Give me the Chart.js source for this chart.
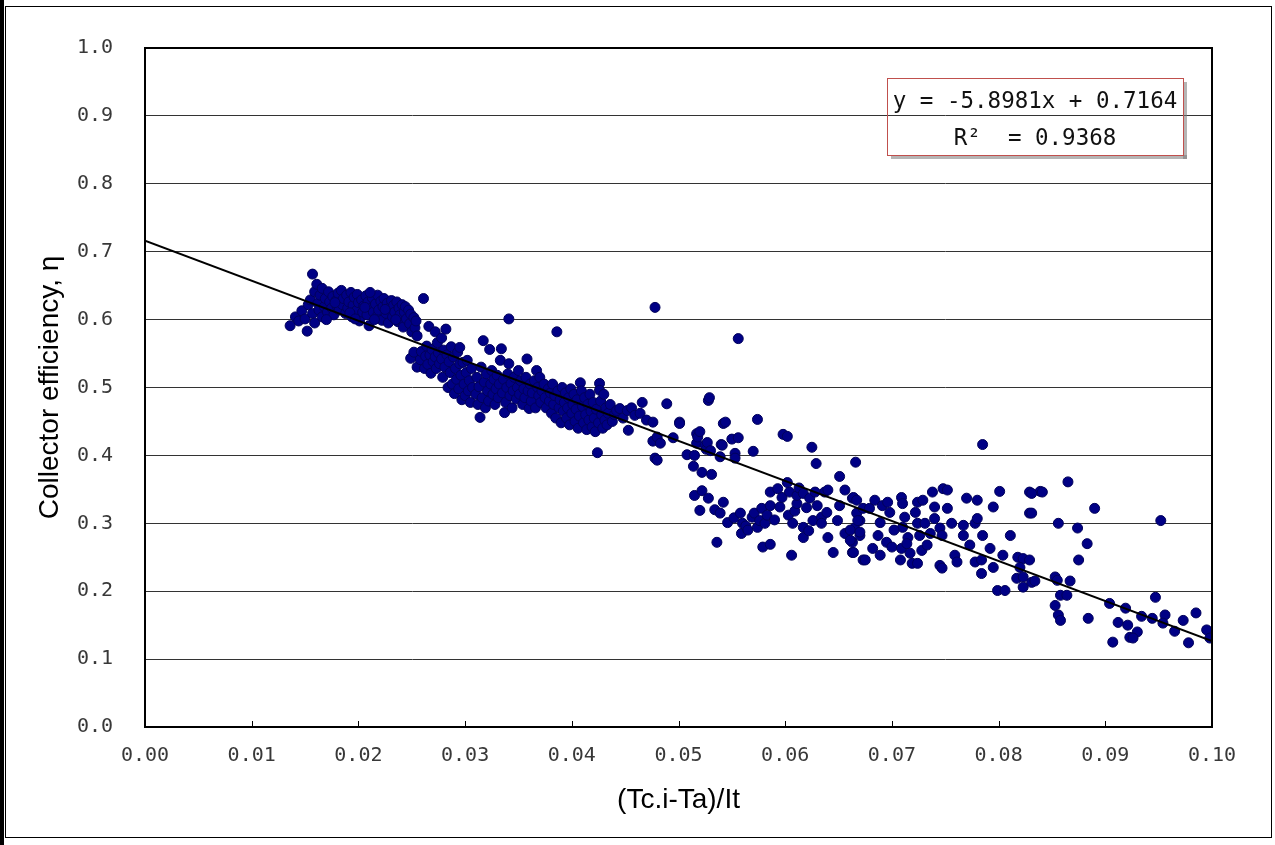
<!DOCTYPE html>
<html>
<head>
<meta charset="utf-8">
<script src="https://cdn.jsdelivr.net/npm/chart.js@4.4.0/dist/chart.umd.min.js"></script>
<style>
  html, body { margin: 0; padding: 0; background: #fff; }
  #wrap { width: 1275px; height: 845px; }
</style>
</head>
<body>
<div id="wrap"><canvas id="effChart" width="1275" height="845"></canvas></div>
<script>
/* ===== DATA ===== */

// measured points, grouped by (Tc.i-Ta)/It range: [x, efficiency]
const ptsA = [
  [0.0136,0.591],[0.0141,0.604],[0.0144,0.598],[0.0147,0.613],[0.0150,0.601],[0.0152,0.583],[0.0153,0.622],[0.0155,0.629],[0.0157,0.667],[0.0157,0.609],
  [0.0159,0.641],[0.0159,0.595],[0.0161,0.652],[0.0162,0.624],[0.0163,0.614],[0.0164,0.636],[0.0166,0.604],[0.0166,0.646],[0.0168,0.619],[0.0169,0.631],
  [0.0171,0.611],[0.0172,0.641],[0.0173,0.626],[0.0175,0.617],[0.0176,0.634],[0.0177,0.607],[0.0179,0.628],[0.0180,0.620],[0.0181,0.639],[0.0182,0.614],
  [0.0184,0.643],[0.0185,0.622],[0.0186,0.631],[0.0188,0.609],[0.0189,0.636],[0.0190,0.617],[0.0191,0.626],[0.0193,0.640],[0.0194,0.604],[0.0195,0.621],
  [0.0196,0.633],[0.0198,0.613],[0.0199,0.637],[0.0200,0.625],[0.0201,0.598],[0.0203,0.629],[0.0204,0.611],[0.0205,0.620],[0.0207,0.635],[0.0208,0.607],
  [0.0209,0.626],[0.0210,0.591],[0.0212,0.617],[0.0213,0.632],[0.0214,0.611],[0.0216,0.623],[0.0217,0.604],[0.0218,0.636],[0.0219,0.614],[0.0221,0.627],
  [0.0222,0.599],[0.0223,0.619],[0.0224,0.631],[0.0226,0.609],[0.0227,0.624],[0.0228,0.595],[0.0229,0.617],[0.0231,0.628],[0.0232,0.604],[0.0233,0.621],
  [0.0234,0.611],[0.0236,0.626],[0.0237,0.597],[0.0238,0.617],[0.0239,0.607],[0.0241,0.622],[0.0242,0.589],[0.0243,0.611],[0.0244,0.619],[0.0245,0.601],
  [0.0247,0.614],[0.0248,0.594],[0.0249,0.608],[0.0250,0.582],[0.0252,0.603],[0.0253,0.588],[0.0254,0.598],[0.0255,0.576],
  [0.0178,0.625],[0.0192,0.610],[0.0206,0.618],[0.0215,0.600],[0.0225,0.615],[0.0170,0.600],[0.0197,0.601],[0.0211,0.640],[0.0235,0.600]
];

const ptsB = [
  [0.0249,0.543],[0.0252,0.552],[0.0255,0.530],[0.0258,0.541],[0.0259,0.553],[0.0261,0.631],[0.0262,0.528],[0.0263,0.546],[0.0264,0.561],[0.0265,0.534],
  [0.0266,0.590],[0.0267,0.548],[0.0268,0.521],[0.0269,0.556],[0.0270,0.538],[0.0272,0.582],[0.0272,0.545],[0.0273,0.528],[0.0274,0.566],[0.0275,0.551],
  [0.0276,0.535],[0.0278,0.573],[0.0278,0.542],[0.0279,0.515],[0.0280,0.555],[0.0281,0.530],[0.0282,0.586],[0.0283,0.548],[0.0284,0.500],[0.0285,0.538],
  [0.0286,0.522],[0.0287,0.560],[0.0288,0.505],[0.0289,0.545],[0.0290,0.491],[0.0291,0.528],[0.0292,0.512],[0.0293,0.552],[0.0294,0.498],[0.0295,0.535],
  [0.0296,0.518],[0.0297,0.482],[0.0298,0.537],[0.0299,0.505],[0.0300,0.488],[0.0301,0.522],[0.0302,0.540],[0.0303,0.495],[0.0304,0.510],[0.0305,0.478],
  [0.0306,0.528],[0.0307,0.500],[0.0295,0.559]
];

const ptsC = [
  [0.0310,0.490],[0.0311,0.515],[0.0312,0.475],[0.0313,0.501],[0.0314,0.456],[0.0315,0.530],[0.0316,0.485],[0.0317,0.569],[0.0318,0.508],[0.0319,0.470],
  [0.0320,0.520],[0.0321,0.495],[0.0322,0.480],[0.0323,0.556],[0.0324,0.505],[0.0325,0.525],[0.0326,0.490],[0.0327,0.512],[0.0328,0.475],[0.0329,0.498],
  [0.0330,0.518],[0.0331,0.485],[0.0332,0.505],[0.0333,0.540],[0.0334,0.557],[0.0335,0.492],[0.0336,0.512],[0.0337,0.463],[0.0338,0.478],[0.0339,0.500],
  [0.0340,0.520],[0.0341,0.601],[0.0341,0.535],[0.0342,0.488],[0.0343,0.506],[0.0344,0.470],[0.0345,0.495],[0.0346,0.515],[0.0348,0.483],[0.0349,0.500],
  [0.0350,0.525],[0.0351,0.490],[0.0352,0.510],[0.0354,0.475],[0.0355,0.498],[0.0356,0.485],[0.0357,0.515],[0.0358,0.542],[0.0359,0.495],[0.0360,0.469],
  [0.0361,0.505],[0.0362,0.480],[0.0363,0.492],[0.0365,0.510],[0.0366,0.470],[0.0367,0.525],[0.0368,0.500],[0.0369,0.488],[0.0370,0.515],[0.0371,0.478],
  [0.0372,0.495],[0.0374,0.505],[0.0375,0.485],[0.0376,0.470],[0.0378,0.498],[0.0379,0.480],[0.0380,0.492],[0.0381,0.462],[0.0382,0.505],[0.0383,0.475],
  [0.0384,0.488],[0.0385,0.455],[0.0386,0.582],[0.0387,0.495],[0.0388,0.470],[0.0389,0.482],[0.0390,0.448],[0.0391,0.500],[0.0392,0.465],[0.0393,0.478],
  [0.0394,0.492],[0.0395,0.455],[0.0396,0.470],[0.0397,0.485],[0.0398,0.445],[0.0399,0.498],[0.0400,0.462],[0.0401,0.475],[0.0402,0.490],[0.0403,0.450],
  [0.0404,0.468],[0.0405,0.482],[0.0406,0.440],[0.0407,0.458],[0.0408,0.507],[0.0409,0.495],[0.0410,0.472],[0.0411,0.448],[0.0412,0.485],[0.0413,0.460],
  [0.0414,0.438],[0.0415,0.475],[0.0416,0.452],[0.0417,0.490],[0.0418,0.465],[0.0419,0.442],[0.0420,0.478],[0.0421,0.455],[0.0422,0.435],[0.0423,0.468],
  [0.0424,0.404],[0.0425,0.448],[0.0426,0.506],[0.0426,0.496],[0.0427,0.480],[0.0428,0.460],[0.0429,0.440],[0.0430,0.490],[0.0431,0.452],[0.0432,0.470],
  [0.0433,0.445],[0.0434,0.462],[0.0436,0.475],[0.0438,0.450],[0.0440,0.460]
];

const ptsD = [
  [0.0442,0.466],[0.0445,0.469],[0.0448,0.455],[0.0452,0.466],[0.0453,0.437],[0.0456,0.470],[0.0459,0.459],[0.0464,0.462],[0.0466,0.478],[0.0470,0.452],
  [0.0476,0.449],[0.0476,0.421],[0.0478,0.396],[0.0478,0.618],[0.0480,0.427],[0.0480,0.393],[0.0483,0.418],[0.0489,0.476],[0.0495,0.426],[0.0501,0.449],
  [0.0501,0.447],[0.0508,0.401],[0.0514,0.384],[0.0515,0.400],[0.0517,0.418],[0.0517,0.432],[0.0518,0.427],[0.0520,0.435],[0.0522,0.375],[0.0525,0.415],
  [0.0526,0.409],[0.0527,0.419],[0.0528,0.481],[0.0529,0.485],[0.0530,0.407],[0.0531,0.372],[0.0539,0.398],[0.0540,0.416],[0.0541,0.415],[0.0542,0.447],
  [0.0544,0.449],[0.0550,0.424],[0.0553,0.403],[0.0553,0.396],[0.0556,0.426],[0.0556,0.572],[0.0570,0.406],[0.0574,0.453],[0.0598,0.431],[0.0602,0.428],
  [0.0625,0.412],[0.0629,0.388],[0.0651,0.369],[0.0666,0.390]
];

const ptsE = [
  [0.0515,0.341],[0.0520,0.319],[0.0522,0.348],[0.0528,0.337],[0.0534,0.320],[0.0536,0.272],[0.0539,0.315],[0.0542,0.331],[0.0546,0.301],[0.0552,0.308],
  [0.0558,0.315],[0.0559,0.285],[0.0560,0.300],[0.0563,0.296],[0.0565,0.290],[0.0569,0.309],[0.0571,0.315],[0.0574,0.294],[0.0576,0.304],[0.0578,0.322],
  [0.0579,0.265],[0.0581,0.300],[0.0583,0.312],[0.0586,0.326],[0.0586,0.346],[0.0586,0.269],[0.0590,0.305],[0.0593,0.351],[0.0595,0.324],[0.0597,0.338],
  [0.0602,0.360],[0.0603,0.312],[0.0604,0.346],[0.0606,0.253],[0.0607,0.300],[0.0609,0.318],[0.0611,0.329],[0.0611,0.341],[0.0613,0.352],[0.0617,0.344],
  [0.0617,0.294],[0.0617,0.279],[0.0620,0.323],[0.0622,0.289],[0.0623,0.337],[0.0626,0.304],[0.0628,0.346],[0.0630,0.326],[0.0634,0.309],[0.0634,0.300],
  [0.0637,0.346],[0.0639,0.316],[0.0640,0.349],[0.0640,0.279],[0.0645,0.257],[0.0649,0.304],[0.0651,0.326],[0.0656,0.349],[0.0656,0.285],[0.0663,0.337],
  [0.0663,0.272],[0.0663,0.257],[0.0665,0.293],[0.0667,0.315],[0.0670,0.282],[0.0670,0.304],[0.0673,0.246],[0.0673,0.322]
];

const ptsF = [
  [0.0664,0.338],[0.0667,0.334],[0.0661,0.290],[0.0668,0.304],[0.0670,0.287],[0.0661,0.275],[0.0664,0.257],[0.0675,0.246],[0.0679,0.322],[0.0684,0.334],
  [0.0689,0.301],[0.0687,0.282],[0.0682,0.263],[0.0689,0.253],[0.0691,0.326],[0.0696,0.331],[0.0698,0.316],[0.0695,0.272],[0.0700,0.265],[0.0708,0.246],
  [0.0709,0.338],[0.0710,0.329],[0.0712,0.309],[0.0710,0.294],[0.0715,0.279],[0.0709,0.263],[0.0717,0.256],[0.0719,0.241],[0.0724,0.241],[0.0722,0.316],
  [0.0724,0.300],[0.0726,0.282],[0.0728,0.260],[0.0724,0.331],[0.0729,0.334],[0.0738,0.346],[0.0736,0.285],[0.0740,0.324],[0.0740,0.307],[0.0745,0.293],
  [0.0747,0.282],[0.0745,0.238],[0.0747,0.234],[0.0748,0.351],[0.0752,0.349],[0.0752,0.322],[0.0756,0.300],[0.0759,0.253],[0.0761,0.243],[0.0767,0.297],
  [0.0767,0.282],[0.0770,0.337],[0.0773,0.268],[0.0778,0.300],[0.0780,0.307],[0.0780,0.334],[0.0778,0.243],[0.0784,0.246],[0.0785,0.282],[0.0784,0.226],
  [0.0785,0.416],[0.0792,0.263],[0.0795,0.324],[0.0795,0.235],[0.0799,0.201],[0.0806,0.201],[0.0801,0.347],[0.0804,0.253],[0.0811,0.282],[0.0818,0.250],
  [0.0823,0.248],[0.0820,0.235],[0.0817,0.219],[0.0823,0.221],[0.0823,0.206],[0.0831,0.213],[0.0829,0.346],[0.0839,0.347],[0.0829,0.315],
  [0.0702,0.290],[0.0714,0.270],[0.0731,0.300],[0.0733,0.268]
];

const ptsG = [
  [0.0865,0.361],[0.0831,0.344],[0.0841,0.346],[0.0831,0.315],[0.0890,0.322],[0.0856,0.300],[0.0874,0.293],[0.0883,0.270],[0.0875,0.246],[0.0952,0.304],
  [0.0829,0.246],[0.0853,0.221],[0.0834,0.215],[0.0855,0.216],[0.0867,0.215],[0.0858,0.194],[0.0864,0.194],[0.0853,0.179],[0.0856,0.165],[0.0858,0.157],
  [0.0884,0.160],[0.0904,0.182],[0.0919,0.175],[0.0947,0.191],[0.0912,0.154],[0.0921,0.150],[0.0930,0.140],[0.0923,0.132],[0.0926,0.131],[0.0907,0.125],
  [0.0934,0.163],[0.0944,0.160],[0.0956,0.165],[0.0954,0.153],[0.0965,0.141],[0.0973,0.157],[0.0985,0.168],[0.0978,0.124],[0.0995,0.143],[0.0998,0.131]
];

// linear trendline fitted to the points
const trendSlope = -5.8981;
const trendIntercept = 0.7164;
const trendLabel = ['y = -5.8981x + 0.7164', 'R²  = 0.9368'];

const xTickLabels = ['0.00','0.01','0.02','0.03','0.04','0.05','0.06','0.07','0.08','0.09','0.10'];
const yTickLabels = ['0.0','0.1','0.2','0.3','0.4','0.5','0.6','0.7','0.8','0.9','1.0'];
const xTitle = '(Tc.i-Ta)/It';
const yTitle = 'Collector efficiency, η';

/* ===== HELPERS ===== */

const MONO = '"DejaVu Sans Mono", "Liberation Mono", monospace';
const SANS = '"Liberation Sans", Arial, sans-serif';

const allPoints = [ptsA, ptsB, ptsC, ptsD, ptsE, ptsF, ptsG]
  .flat()
  .map(p => ({ x: p[0], y: p[1] }));

const trendPoints = [0, 0.1].map(x => ({ x, y: trendIntercept + trendSlope * x }));

// page frame, plot border and the small inward ticks on the x axis
const framePlugin = {
  id: 'frame',
  beforeDraw(chart) {
    const { ctx, width, height } = chart;
    ctx.save();
    ctx.fillStyle = '#fff';
    ctx.fillRect(0, 0, width, height);
    ctx.restore();
  },
  afterDraw(chart) {
    const { ctx, chartArea: a, scales: { x } } = chart;
    ctx.save();
    ctx.strokeStyle = '#000';
    ctx.lineWidth = 2;
    ctx.strokeRect(a.left, a.top, a.right - a.left, a.bottom - a.top);

    ctx.lineWidth = 1;
    x.ticks.forEach(t => {
      const px = Math.round(x.getPixelForValue(t.value)) + 0.5;
      ctx.beginPath();
      ctx.moveTo(px, a.bottom);
      ctx.lineTo(px, a.bottom - 6);
      ctx.stroke();
    });

    ctx.fillStyle = '#000';
    ctx.fillRect(0, 0, 4, chart.height);
    ctx.strokeRect(5.5, 6.5, 1266, 831);
    ctx.restore();
  }
};

// boxed trendline equation
const equationPlugin = {
  id: 'equation',
  afterDraw(chart) {
    const { ctx, chartArea: a } = chart;
    const w = 296, h = 77;
    const bx = a.right - 325, by = a.top + 30;
    ctx.save();
    ctx.fillStyle = 'rgba(120,120,120,0.55)';
    ctx.fillRect(bx + w, by + 4, 4, h);
    ctx.fillRect(bx + 4, by + h, w, 4);
    ctx.strokeStyle = '#c0504d';
    ctx.lineWidth = 1;
    ctx.strokeRect(bx + 0.5, by + 0.5, w, h);

    ctx.fillStyle = '#111';
    ctx.font = '22.5px ' + MONO;
    ctx.textAlign = 'center';
    ctx.textBaseline = 'alphabetic';
    const cx = bx + w / 2;
    ctx.fillText(trendLabel[0], cx, by + 30);
    ctx.fillText(trendLabel[1], cx, by + 67);
    ctx.restore();
  }
};

/* ===== CHART ===== */

(function() {
  const ctx = document.getElementById('effChart');
  if (!ctx) return;

  new Chart(ctx, {
    type: 'scatter',
    data: {
      datasets: [
        {
          type: 'line',
          label: 'Linear fit',
          data: trendPoints,
          borderColor: '#000',
          borderWidth: 2,
          pointRadius: 0,
          fill: false,
          order: 0,
        },
        {
          label: 'Efficiency',
          data: allPoints,
          backgroundColor: '#000085',
          borderColor: '#00005a',
          borderWidth: 1,
          pointRadius: 5,
          order: 1,
        }
      ]
    },
    options: {
      responsive: false,
      animation: false,
      devicePixelRatio: 1,
      layout: { padding: { top: 48, right: 63, left: 0, bottom: 0 } },
      plugins: {
        legend: { display: false },
        tooltip: { enabled: false }
      },
      scales: {
        x: {
          type: 'linear',
          min: 0,
          max: 0.1,
          afterFit(s) { s.height = 118; },
          grid: { display: false, drawTicks: false },
          border: { display: true, color: '#000', width: 2 },
          ticks: {
            stepSize: 0.01,
            autoSkip: false,
            maxRotation: 0,
            padding: 17,
            color: '#383838',
            font: { family: MONO, size: 20 },
            callback(v, i) { return xTickLabels[i]; }
          },
          title: {
            display: true,
            text: xTitle,
            color: '#000',
            font: { family: SANS, size: 28 },
            padding: { top: 0, bottom: 28 }
          }
        },
        y: {
          type: 'linear',
          min: 0,
          max: 1,
          afterFit(s) { s.width = 145; },
          grid: { color: '#333', lineWidth: 1, drawTicks: false },
          border: { display: true, color: '#000', width: 2 },
          ticks: {
            stepSize: 0.1,
            padding: 32,
            color: '#383838',
            font: { family: MONO, size: 20 },
            callback(v, i) { return yTickLabels[i]; }
          },
          title: {
            display: true,
            text: yTitle,
            color: '#000',
            font: { family: SANS, size: 28 },
            padding: { top: 33, bottom: 0 }
          }
        }
      }
    },
    plugins: [framePlugin, equationPlugin]
  });
})();
</script>
</body>
</html>
